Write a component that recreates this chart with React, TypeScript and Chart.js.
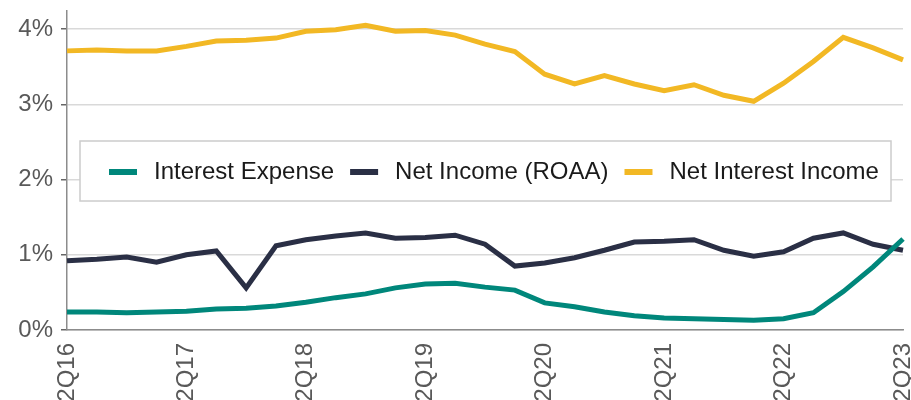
import { useEffect, useRef } from 'react';
import { Chart, registerables } from 'chart.js';

Chart.register(...registerables);

const quarters = [
  '2Q16', '3Q16', '4Q16', '1Q17', '2Q17', '3Q17', '4Q17', '1Q18', '2Q18', '3Q18',
  '4Q18', '1Q19', '2Q19', '3Q19', '4Q19', '1Q20', '2Q20', '3Q20', '4Q20', '1Q21',
  '2Q21', '3Q21', '4Q21', '1Q22', '2Q22', '3Q22', '4Q22', '1Q23', '2Q23',
];

const interestExpense = [
  0.24, 0.24, 0.23, 0.24, 0.25, 0.28, 0.29, 0.32, 0.37, 0.43,
  0.48, 0.56, 0.61, 0.62, 0.57, 0.53, 0.36, 0.31, 0.24, 0.19,
  0.16, 0.15, 0.14, 0.13, 0.15, 0.23, 0.51, 0.84, 1.21,
];

const netIncome = [
  0.92, 0.94, 0.97, 0.90, 1.00, 1.05, 0.56, 1.12, 1.20, 1.25,
  1.29, 1.22, 1.23, 1.26, 1.14, 0.85, 0.89, 0.96, 1.06, 1.17,
  1.18, 1.20, 1.06, 0.98, 1.04, 1.22, 1.29, 1.14, 1.06,
];

const netInterestIncome = [
  3.71, 3.72, 3.71, 3.71, 3.77, 3.84, 3.85, 3.88, 3.97, 3.99,
  4.05, 3.97, 3.98, 3.92, 3.80, 3.70, 3.40, 3.27, 3.38, 3.27,
  3.18, 3.26, 3.12, 3.04, 3.28, 3.57, 3.89, 3.75, 3.59,
];

const yTicks = [0, 1, 2, 3, 4];

const FONT = '"Liberation Sans", Arial, sans-serif';

const legendBoxPlugin = {
  id: 'legendBox',
  afterDraw(chart: any) {
    const { ctx, chartArea } = chart;
    const left = chartArea.left + 13;
    const right = chartArea.right - 12;
    const top = chartArea.top + 130;
    const bottom = chartArea.top + 190;
    ctx.save();
    ctx.fillStyle = '#ffffff';
    ctx.fillRect(left, top, right - left, bottom - top);
    ctx.strokeStyle = '#cccccc';
    ctx.lineWidth = 1.5;
    ctx.strokeRect(left, top, right - left, bottom - top);
    ctx.font = `24px ${FONT}`;
    ctx.textBaseline = 'middle';
    ctx.textAlign = 'left';
    const cy = (top + bottom) / 2 + 1;
    let x = left + 29;
    chart.data.datasets.forEach((ds: any) => {
      ctx.fillStyle = ds.borderColor;
      ctx.fillRect(x, cy - 3, 28, 6);
      x += 28 + 17;
      ctx.fillStyle = '#1a1a1a';
      ctx.fillText(ds.label, x, cy);
      x += ctx.measureText(ds.label).width + 16;
    });
    ctx.restore();
  },
};

export default function App() {
  const ref = useRef<HTMLCanvasElement>(null);

  useEffect(() => {
    document.body.style.margin = '0';
    const canvas = ref.current;
    if (!canvas) return;
    const chart = new Chart(canvas, {
      type: 'line',
      data: {
        labels: quarters,
        datasets: [
          { label: 'Interest Expense', data: interestExpense, borderColor: '#00877B', backgroundColor: '#00877B' },
          { label: 'Net Income (ROAA)', data: netIncome, borderColor: '#2A2F45', backgroundColor: '#2A2F45' },
          { label: 'Net Interest Income', data: netInterestIncome, borderColor: '#F2B824', backgroundColor: '#F2B824' },
        ],
      },
      options: {
        animation: false,
        responsive: false,
        layout: { padding: { top: 11, right: 8, left: 0, bottom: 0 } },
        plugins: { legend: { display: false }, tooltip: { enabled: false } },
        elements: {
          point: { radius: 0 },
          line: { borderWidth: 5, tension: 0, borderJoinStyle: 'miter' as any, borderCapStyle: 'butt' },
        },
        scales: {
          x: {
            offset: false,
            grid: { display: false, drawTicks: false },
            border: { color: '#8c8c8c', width: 1.5 },
            ticks: {
              autoSkip: false,
              maxRotation: 90,
              minRotation: 90,
              padding: 13,
              color: '#595959',
              font: { size: 24, family: FONT },
              callback: (_v: any, i: number) => (i % 4 === 0 ? quarters[i] : ''),
            },
            afterFit: (s: any) => {
              s.height = 70;
              s.paddingLeft = 0;
              s.paddingRight = 0;
            },
          },
          y: {
            min: 0,
            max: 4.24,
            afterBuildTicks: (s: any) => { s.ticks = yTicks.map((v) => ({ value: v })); },
            grid: { color: '#d9d9d9', lineWidth: 1.5, tickLength: 6, tickColor: '#666666' },
            border: { color: '#8c8c8c', width: 1.5 },
            ticks: {
              padding: 8,
              color: '#595959',
              font: { size: 24, family: FONT },
              callback: (v: any) => `${v}%`,
            },
            afterFit: (s: any) => {
              s.width = 67;
              s.paddingTop = 0;
              s.paddingBottom = 0;
            },
          },
        },
      },
      plugins: [legendBoxPlugin],
    });
    return () => chart.destroy();
  }, []);

  return <canvas ref={ref} width={911} height={400} style={{ display: 'block' }} />;
}
